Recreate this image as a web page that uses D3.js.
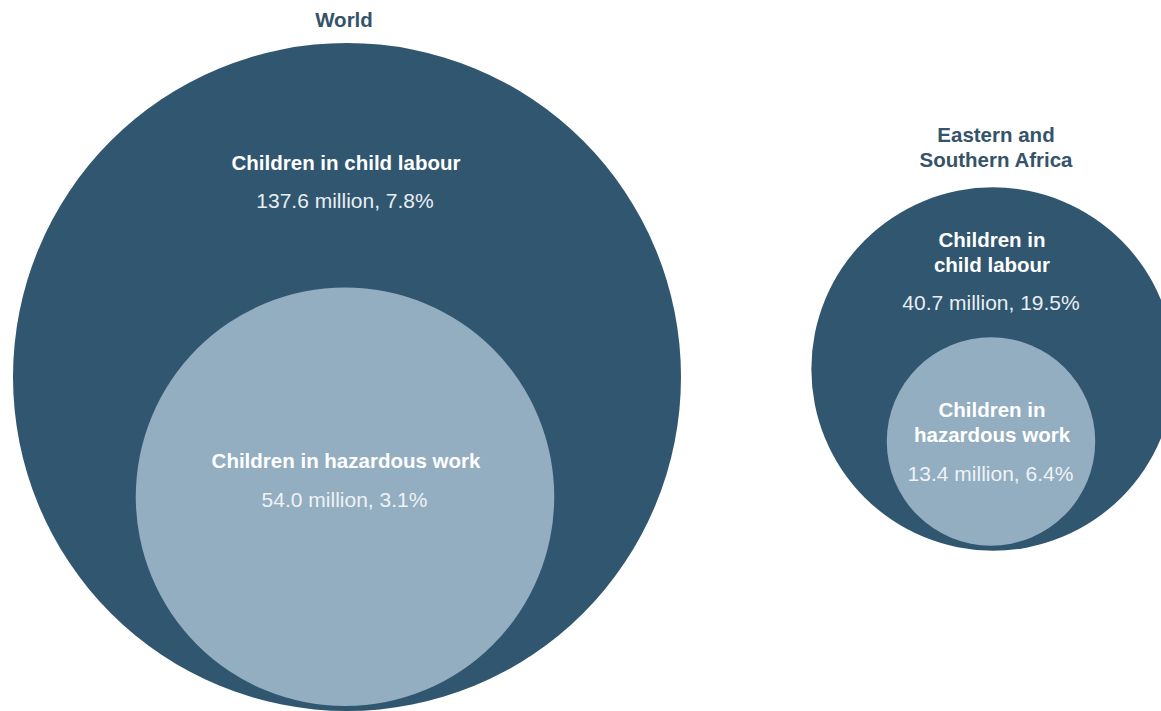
<!DOCTYPE html>
<html>
<head>
<meta charset="utf-8">
<script src="https://cdn.jsdelivr.net/npm/d3@7"></script>
<style>
  html, body { margin: 0; padding: 0; background: #ffffff; }
  svg { display: block; }
  text { font-family: "Liberation Sans", Arial, Helvetica, sans-serif; }
</style>
</head>
<body>
<svg id="chart" width="1161" height="711"></svg>
<script>
// ---- Data ----
const regions = ["World", "Eastern and Southern Africa"];
const regionTitleLines = [["World"], ["Eastern and", "Southern Africa"]];
const childLabour = [137.6, 40.7];       // millions
const childLabourPct = [7.8, 19.5];      // %
const hazardous = [54.0, 13.4];          // millions
const hazardousPct = [3.1, 6.4];         // %
const outerLabelLines = [["Children in child labour"], ["Children in", "child labour"]];
const innerLabelLines = [["Children in hazardous work"], ["Children in", "hazardous work"]];

// ---- Layout ----
const svg = d3.select("#chart");
const darkCol = "#315670";
const lightCol = "#93adc1";
const titleCol = "#35536a";

const r = d3.scaleSqrt().domain([0, 137.6]).range([0, 334]);
const cx = d3.scaleOrdinal().domain(regions).range([347, 993]);
const cyOuter = d3.scaleOrdinal().domain(regions).range([377, 369]);
const textX = [346, 992];
const titleX = [344, 996];
const titleY = [27, 142];
const outerLabelY = [170, 247];
const innerLabelY = [468, 417];
const lh = 25;
const gap = 5;
const fs = 20.5;

const fmt = d3.format(".1f");

regions.forEach((reg, i) => {
  const x = cx(reg);
  const R = r(childLabour[i]);
  const ri = r(hazardous[i]);
  const cy = cyOuter(reg);
  const cyi = cy + R - ri - gap;

  const g = svg.append("g");
  g.append("circle").attr("cx", x).attr("cy", cy).attr("r", R).attr("fill", darkCol);
  g.append("circle").attr("cx", x - 2).attr("cy", cyi).attr("r", ri).attr("fill", lightCol);

  regionTitleLines[i].forEach((line, k) => {
    g.append("text")
      .attr("x", titleX[i]).attr("y", titleY[i] + k * lh)
      .attr("text-anchor", "middle")
      .attr("font-size", fs).attr("font-weight", "bold")
      .attr("fill", titleCol)
      .text(line);
  });

  const ol = outerLabelLines[i];
  ol.forEach((line, k) => {
    g.append("text")
      .attr("x", textX[i]).attr("y", outerLabelY[i] + k * lh)
      .attr("text-anchor", "middle")
      .attr("font-size", fs).attr("font-weight", "bold")
      .attr("fill", "#ffffff")
      .text(line);
  });
  g.append("text")
    .attr("x", textX[i] - 1).attr("y", outerLabelY[i] + (ol.length - 1) * lh + 37.5)
    .attr("text-anchor", "middle")
    .attr("font-size", 21)
    .attr("fill", "#e8eef3")
    .text(`${fmt(childLabour[i])} million, ${fmt(childLabourPct[i])}%`);

  const il = innerLabelLines[i];
  il.forEach((line, k) => {
    g.append("text")
      .attr("x", textX[i]).attr("y", innerLabelY[i] + k * lh)
      .attr("text-anchor", "middle")
      .attr("font-size", fs).attr("font-weight", "bold")
      .attr("fill", "#ffffff")
      .text(line);
  });
  g.append("text")
    .attr("x", textX[i] - 1.5).attr("y", innerLabelY[i] + (il.length - 1) * lh + 38.5)
    .attr("text-anchor", "middle")
    .attr("font-size", 21)
    .attr("fill", "#eef3f6")
    .text(`${fmt(hazardous[i])} million, ${fmt(hazardousPct[i])}%`);
});
</script>
</body>
</html>
